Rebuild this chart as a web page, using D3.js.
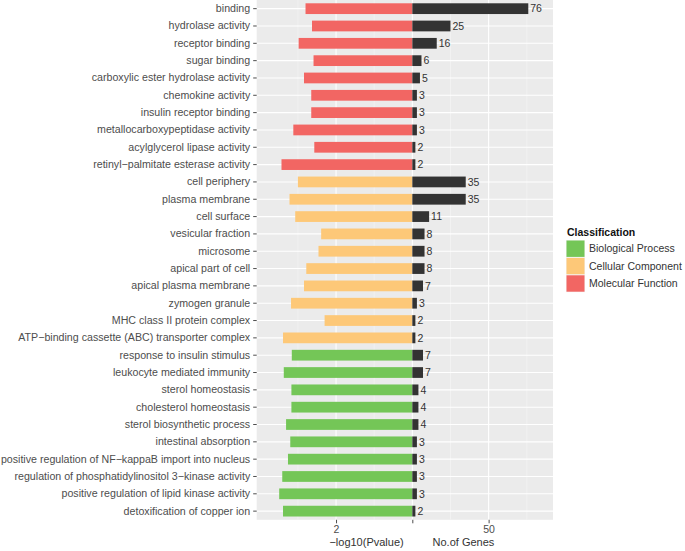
<!DOCTYPE html>
<html>
<head>
<meta charset="utf-8">
<script src="https://cdn.jsdelivr.net/npm/d3@7"></script>
<style>
  html, body { margin: 0; padding: 0; background: #fff; }
  svg { display: block; font-family: "Liberation Sans", Arial, Helvetica, sans-serif; }
</style>
</head>
<body>
<svg id="chart" width="685" height="551"></svg>
<script>
// ---- data ----
const terms = [
  "binding", "hydrolase activity", "receptor binding", "sugar binding",
  "carboxylic ester hydrolase activity", "chemokine activity", "insulin receptor binding",
  "metallocarboxypeptidase activity", "acylglycerol lipase activity",
  "retinyl\u2212palmitate esterase activity",
  "cell periphery", "plasma membrane", "cell surface", "vesicular fraction", "microsome",
  "apical part of cell", "apical plasma membrane", "zymogen granule",
  "MHC class II protein complex", "ATP\u2212binding cassette (ABC) transporter complex",
  "response to insulin stimulus", "leukocyte mediated immunity", "sterol homeostasis",
  "cholesterol homeostasis", "sterol biosynthetic process", "intestinal absorption",
  "positive regulation of NF\u2212kappaB import into nucleus",
  "regulation of phosphatidylinositol 3\u2212kinase activity",
  "positive regulation of lipid kinase activity", "detoxification of copper ion"
];
const classes = [
  "Molecular Function","Molecular Function","Molecular Function","Molecular Function",
  "Molecular Function","Molecular Function","Molecular Function","Molecular Function",
  "Molecular Function","Molecular Function",
  "Cellular Component","Cellular Component","Cellular Component","Cellular Component",
  "Cellular Component","Cellular Component","Cellular Component","Cellular Component",
  "Cellular Component","Cellular Component",
  "Biological Process","Biological Process","Biological Process","Biological Process",
  "Biological Process","Biological Process","Biological Process","Biological Process",
  "Biological Process","Biological Process"
];
const negLogP = [
  2.80, 2.63, 2.98, 2.59, 2.84, 2.65, 2.65, 3.12, 2.57, 3.43,
  3.00, 3.22, 3.07, 2.39, 2.46, 2.78, 2.84, 3.18, 2.30, 3.39,
  3.16, 3.37, 3.17, 3.17, 3.31, 3.20, 3.26, 3.41, 3.49, 3.39
];
const geneCounts = [
  76, 25, 16, 6, 5, 3, 3, 3, 2, 2,
  35, 35, 11, 8, 8, 8, 7, 3, 2, 2,
  7, 7, 4, 4, 4, 3, 3, 3, 3, 2
];
const legendClasses = ["Biological Process", "Cellular Component", "Molecular Function"];
const classColors = ["#74C657", "#FDC878", "#F26663"];
const xTickValues = [-50, 0, 50];
const xTickLabels = ["2", "", "50"];
const pScale = 25;           // -log10(P) is drawn as -value*25 on the shared axis
const xTitleLeft = "\u2212log10(Pvalue)";
const xTitleRight = "No.of Genes";

// ---- layout ----
const svg = d3.select("#chart");
const panel = { left: 256.7, right: 553, top: 0, bottom: 519.8 };

const x = d3.scaleLinear().domain([-102, 92.2]).range([panel.left, panel.right]);
const y = d3.scaleBand().domain(terms).range([panel.top, panel.bottom]).paddingInner(0.38).paddingOuter(0.19);
const color = d3.scaleOrdinal().domain(legendClasses).range(classColors);

const rows = terms.map((t, i) => ({ term: t, cls: classes[i], p: negLogP[i], n: geneCounts[i] }));

// panel background
svg.append("rect")
  .attr("x", panel.left).attr("y", panel.top)
  .attr("width", panel.right - panel.left).attr("height", panel.bottom - panel.top)
  .attr("fill", "#EBEBEB");

// minor grid
const minor = [-75, -25, 25, 75];
svg.append("g").selectAll("line").data(minor).join("line")
  .attr("x1", d => x(d)).attr("x2", d => x(d))
  .attr("y1", panel.top).attr("y2", panel.bottom)
  .attr("stroke", "#F5F5F5").attr("stroke-width", 0.6);

// major grid vertical
svg.append("g").selectAll("line").data(xTickValues).join("line")
  .attr("x1", d => x(d)).attr("x2", d => x(d))
  .attr("y1", panel.top).attr("y2", panel.bottom)
  .attr("stroke", "#FFFFFF").attr("stroke-width", 1.1);

// major grid horizontal
svg.append("g").selectAll("line").data(terms).join("line")
  .attr("x1", panel.left).attr("x2", panel.right)
  .attr("y1", d => y(d) + y.bandwidth() / 2).attr("y2", d => y(d) + y.bandwidth() / 2)
  .attr("stroke", "#FFFFFF").attr("stroke-width", 1.1);

// p-value bars (left)
svg.append("g").selectAll("rect").data(rows).join("rect")
  .attr("x", d => x(-d.p * pScale))
  .attr("y", d => y(d.term))
  .attr("width", d => x(0) - x(-d.p * pScale))
  .attr("height", y.bandwidth())
  .attr("fill", d => color(d.cls));

// gene count bars (right)
svg.append("g").selectAll("rect").data(rows).join("rect")
  .attr("x", x(0))
  .attr("y", d => y(d.term))
  .attr("width", d => x(d.n) - x(0))
  .attr("height", y.bandwidth())
  .attr("fill", "#333333");

// count labels
svg.append("g").selectAll("text").data(rows).join("text")
  .attr("x", d => x(d.n) + 2)
  .attr("y", d => y(d.term) + y.bandwidth() / 2)
  .attr("dy", "0.36em")
  .attr("font-size", 10.5)
  .attr("fill", "#333333")
  .text(d => d.n);

// y axis
const yAxis = d3.axisLeft(y).tickSize(3.5).tickPadding(3);
const gy = svg.append("g").attr("transform", `translate(${panel.left},0)`).call(yAxis);
gy.select(".domain").remove();
gy.selectAll(".tick line").attr("stroke", "#4D4D4D");
gy.selectAll(".tick text").attr("font-size", 10.65).attr("fill", "#4D4D4D")
  .attr("font-family", "Liberation Sans, Arial, sans-serif");

// x axis
const xAxis = d3.axisBottom(x).tickValues(xTickValues)
  .tickFormat((d, i) => xTickLabels[i]).tickSize(3.5).tickPadding(2);
const gx = svg.append("g").attr("transform", `translate(0,${panel.bottom})`).call(xAxis);
gx.select(".domain").remove();
gx.selectAll(".tick line").attr("stroke", "#4D4D4D");
gx.selectAll(".tick text").attr("font-size", 10.5).attr("fill", "#4D4D4D")
  .attr("font-family", "Liberation Sans, Arial, sans-serif");

// x titles
svg.append("text").attr("x", x(-30)).attr("y", 546)
  .attr("text-anchor", "middle").attr("font-size", 11).attr("fill", "#333")
  .text(xTitleLeft);
svg.append("text").attr("x", x(33.5)).attr("y", 546)
  .attr("text-anchor", "middle").attr("font-size", 11).attr("fill", "#333")
  .text(xTitleRight);

// legend
const lg = svg.append("g").attr("transform", "translate(566,0)");
lg.append("text").attr("x", 1).attr("y", 236)
  .attr("font-size", 10.5).attr("font-weight", "bold").attr("fill", "#111")
  .text("Classification");
const keyH = 17.4;
const items = lg.selectAll("g.item").data(legendClasses).join("g")
  .attr("class", "item")
  .attr("transform", (d, i) => `translate(0,${240 + i * keyH})`);
items.append("rect").attr("width", 19).attr("height", keyH)
  .attr("fill", "#F2F2F2");
items.append("rect").attr("x", 0.5).attr("y", 0.5).attr("width", 18).attr("height", keyH - 1)
  .attr("fill", d => color(d));
items.append("text").attr("x", 23).attr("y", keyH / 2).attr("dy", "0.36em")
  .attr("font-size", 10.5).attr("fill", "#333")
  .text(d => d);
</script>
</body>
</html>
